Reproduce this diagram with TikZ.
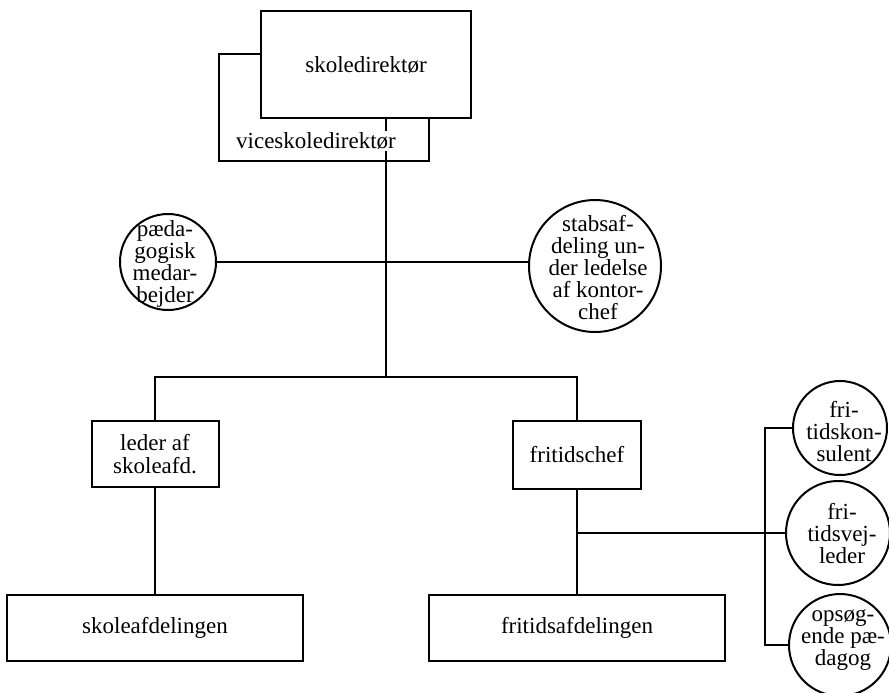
\documentclass[tikz,border=0pt]{standalone}
\usepackage{fontspec}
\setmainfont{Liberation Serif}
\begin{document}
\begin{tikzpicture}[x=0.5pt,y=-0.5pt,
  every node/.style={font=\fontsize{11.5}{11.5}\selectfont},
  box/.style={draw, line width=1pt, fill=white, inner sep=0pt, align=center},
  ring/.style={draw, circle, line width=1pt, fill=white, inner sep=0pt},
  lbl/.style={align=center, inner sep=0pt, font=\fontsize{11.5}{11}\selectfont},
  conn/.style={line width=1pt}]
\useasboundingbox (0,0) rectangle (889,692);
% top boxes
\node[box, minimum width=105pt, minimum height=53.5pt] (vice) at (324,107.5) {};
\node[box, minimum width=105pt, minimum height=53.5pt] (skole) at (366,64.5) {skoledirektør};
% staff circles
\node[ring, minimum size=96pt*0.5] (paed) at (168,262) {};
\node[lbl] (paedt) at (165,264) {pæda-\\gogisk\\medar-\\bejder};
\node[ring, minimum size=132pt*0.5] (stabs) at (595,266) {};
\node[lbl] (stabst) at (598,268) {stabsaf-\\deling un-\\der ledelse\\af kontor-\\chef};
% middle boxes
\node[box, minimum width=63.5pt, minimum height=33pt] (leader) at (155,454) {leder af\\skoleafd.};
\node[box, minimum width=64pt, minimum height=34pt] (fchef) at (577,455) {fritidschef};
% bottom boxes
\node[box, minimum width=148pt, minimum height=33pt] (skafd) at (155,628) {skoleafdelingen};
\node[box, minimum width=148pt, minimum height=33pt] (frafd) at (577,628) {fritidsafdelingen};
% right circles
\node[ring, minimum size=47pt] (c1) at (840,428) {};
\node[lbl] (c1t) at (844,432) {fri-\\tidskon-\\sulent};
\node[ring, minimum size=52pt] (c2) at (838,533) {};
\node[lbl] (c2t) at (842,534) {fri-\\tidsvej-\\leder};
\node[ring, minimum size=51pt] (c3) at (840,645) {};
\node[lbl] (c3t) at (843,640) {opsøg-\\ende pæ-\\dagog};
% coordinates
\coordinate (bus) at (386,377);
\coordinate (br) at (577,533);
\coordinate (bx) at (765,533);
% connectors
\draw[conn] (skole.south -| bus) -- (bus);
\draw[conn] (paed.east) -- (stabs.west |- paed.east);
\draw[conn] (leader.north) |- (bus) -| (fchef.north);
\draw[conn] (leader.south) -- (skafd.north);
\draw[conn] (fchef.south) -- (frafd.north);
\draw[conn] (br) -- (c2.west);
\draw[conn] (c1.west) -- (c1.west -| bx) -- (c3.west -| bx) -- (c3.west);
% vice label over trunk
\node[fill=white, inner sep=1pt] (vicet) at (316,141) {viceskoledirektør};
\end{tikzpicture}
\end{document}
